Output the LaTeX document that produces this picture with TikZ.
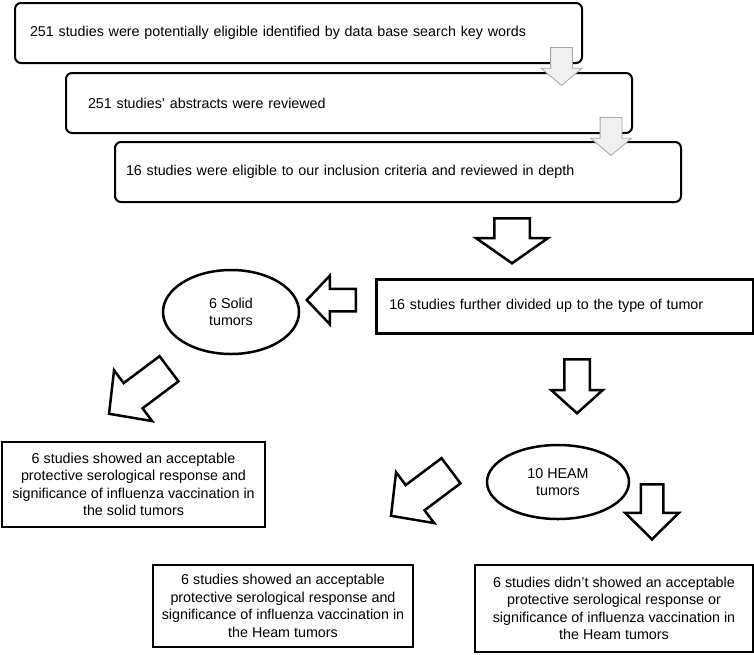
\documentclass[tikz,border=0pt]{standalone}
\usepackage{fontspec}
\setmainfont{Liberation Sans}
\usepackage{tikz}
\usetikzlibrary{shapes,arrows}

\begin{document}
\begin{tikzpicture}[x=1pt, y=-1pt]%
  \tikzset{stage box/.style={draw, rounded corners=6pt, line width=2pt, minimum height=60pt, inner ysep=0pt, align=left, anchor=north west}}
  \tikzset{result box/.style={draw, line width=2.5pt, inner sep=0pt, align=center}}
  \tikzset{group/.style={draw, ellipse, line width=2.5pt, inner sep=0pt, align=center}}
  \tikzset{pale arrow/.style={single arrow, draw=gray!70, fill=gray!12, line width=0.8pt, inner xsep=0pt, inner ysep=10.5pt, anchor=tail, rotate=-90,
      minimum height=38pt, minimum width=40pt, single arrow head extend=9.5pt, single arrow head indent=0pt, single arrow tip angle=100}}
  \tikzset{block arrow/.style={single arrow, draw, fill=white, line width=2.5pt, inner xsep=0pt, anchor=tail, single arrow head indent=0pt}}
  \tikzstyle{every node}=[font=\fontsize{14.3}{17.5}\selectfont]

  \useasboundingbox (0,0) rectangle (754,654);

  \node[stage box, inner xsep=15pt, text width=537pt] at (14,2) (search) {251 studies were potentially eligible identified by data base search key words};
  \node[stage box, inner xsep=22pt, text width=522pt] at (65,72) (abstracts) {251 studies’ abstracts were reviewed};
  \node[stage box, inner xsep=11pt, text width=544pt] at (114,141) (eligible) {16 studies were eligible to our inclusion criteria and reviewed in depth};

  \node[result box, anchor=north west, minimum width=377pt, minimum height=54pt, inner xsep=13pt, text width=351pt, align=left] at (375,278) (divided) {16 studies further divided up to the type of tumor};
  \node[group, minimum width=136pt, minimum height=84pt] at (231,312) (solid) {6 Solid\\tumors};
  \node[group, minimum width=142pt, minimum height=74pt] at (558,482) (heam) {10 HEAM\\tumors};

  \node[result box, minimum width=263pt, minimum height=85pt] at (133.5,484.5) (solidres) {6 studies showed an acceptable\\protective serological response and\\significance of influenza vaccination in\\the solid tumors};
  \node[result box, minimum width=260pt, minimum height=82pt] at (283,606) (heamyes) {6 studies showed an acceptable\\protective serological response and\\significance of influenza vaccination in\\the Heam tumors};
  \node[result box, minimum width=278pt, minimum height=87pt] at (614,608.5) (heamno) {6 studies didn’t showed an acceptable\\protective serological response or\\significance of influenza vaccination in\\the Heam tumors};

  \node[pale arrow] at (561.5,47) (search-abstracts) {};
  \node[pale arrow] at (611,117) (abstracts-eligible) {};

  \node[block arrow, rotate=-90, minimum height=45pt, minimum width=69pt, inner ysep=16.5pt, single arrow head extend=18pt, single arrow tip angle=110] at (512,217) (eligible-divided) {};
  \node[block arrow, rotate=180, minimum height=49pt, minimum width=46pt, inner ysep=10pt, single arrow head extend=13pt, single arrow tip angle=93] at (357,300) (divided-solid) {};
  \node[block arrow, rotate=216.9, minimum height=75pt, minimum width=61pt, inner ysep=14.5pt, single arrow head extend=16pt, single arrow tip angle=93] at (170,368) (solid-solidres) {};
  \node[block arrow, rotate=-90, minimum height=54pt, minimum width=49pt, inner ysep=11.5pt, single arrow head extend=13pt, single arrow tip angle=96] at (577,358) (divided-heam) {};
  \node[block arrow, rotate=216.9, minimum height=75pt, minimum width=61pt, inner ysep=14.5pt, single arrow head extend=16pt, single arrow tip angle=93] at (452,470) (heam-heamyes) {};
  \node[block arrow, rotate=-90, minimum height=55pt, minimum width=51pt, inner ysep=10pt, single arrow head extend=15.5pt, single arrow tip angle=91] at (652,483) (heam-heamno) {};

\end{tikzpicture}
\end{document}
